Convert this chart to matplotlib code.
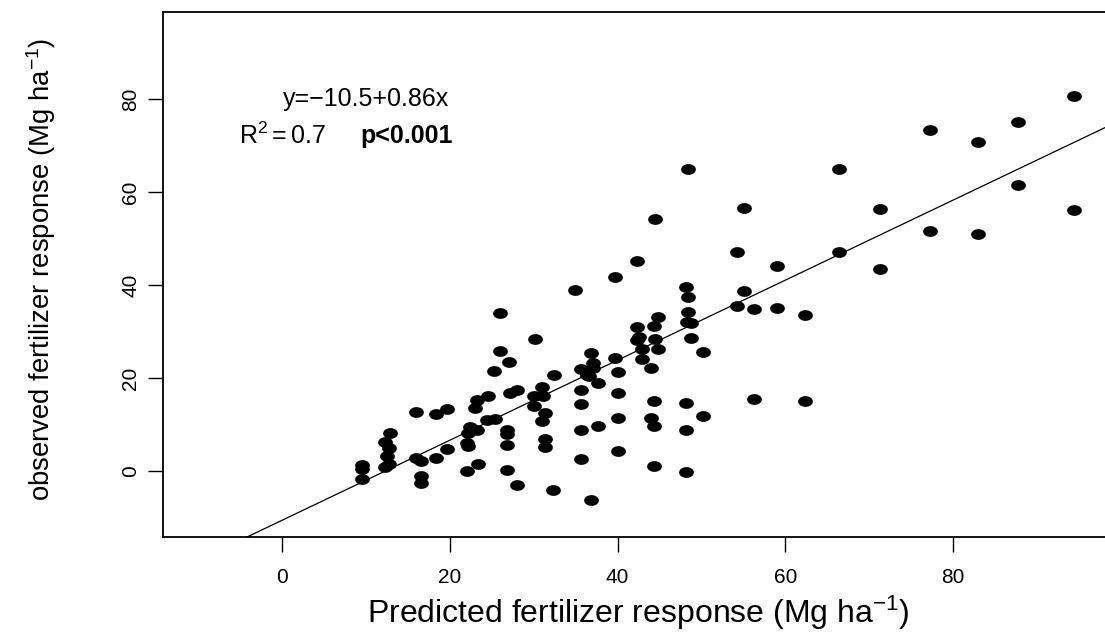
import numpy as np
import matplotlib
matplotlib.use("Agg")
import matplotlib.pyplot as plt
from matplotlib.path import Path

# ---- data ----
predicted = [9.5, 9.5, 9.5,
             12.9, 12.3, 12.7, 12.5, 12.3, 12.7,
             16.0, 16.0, 16.6, 16.6, 16.6,
             18.4, 18.4, 19.6, 19.6,
             22.4, 22.2, 22.0, 22.2, 22.0,
             23.2, 23.2, 23.0, 23.4,
             24.5, 24.4, 25.4, 25.2, 26.0, 26.0,
             26.8, 26.8, 26.8, 26.8, 27.1, 27.2,
             28.0, 28.0, 30.2, 31.0, 30.0, 30.0, 31.1,
             31.3, 31.3, 31.3, 31.0, 32.3, 32.4,
             34.9, 35.6, 35.6, 35.6, 35.6, 35.6,
             36.8, 36.8, 37.0, 37.0, 36.3, 36.6, 37.7, 37.7,
             39.7, 39.7, 40.0, 40.0, 40.0, 40.0,
             42.3, 42.3, 42.3, 42.6, 42.9, 42.9,
             44.3, 44.3, 44.3, 44.3, 44.5, 44.5, 44.0, 44.0, 44.8, 44.8,
             48.2, 48.2, 48.2, 48.2, 48.4, 48.4, 48.4, 48.3, 48.7, 48.7,
             50.2, 50.2, 54.2, 54.2, 55.1, 55.1, 56.2, 56.2,
             59.0, 59.0, 62.3, 62.3, 66.4, 66.4, 71.3, 71.3,
             77.2, 77.2, 83.0, 83.0, 87.7, 87.7, 94.4, 94.4]
observed = [1.3, 0.5, -1.7,
            8.2, 6.4, 5.0, 3.2, 1.0, 1.6,
            12.8, 2.8, 2.3, -1.1, -2.5,
            12.3, 2.8, 13.4, 4.8,
            9.6, 8.2, 6.2, 5.5, 0.0,
            15.4, 8.9, 13.7, 1.5,
            16.1, 11.1, 11.2, 21.6, 34.0, 25.9,
            8.9, 8.1, 5.7, 0.3, 23.4, 16.8,
            17.5, -3.0, 28.5, 18.2, 16.1, 14.1, 16.2,
            12.5, 7.0, 5.3, 10.8, -4.0, 20.6,
            39.0, 21.9, 17.5, 14.5, 8.9, 2.7,
            25.5, -6.1, 23.2, 22.2, 20.7, 20.4, 18.9, 9.8,
            41.8, 24.3, 21.4, 16.8, 11.4, 4.3,
            45.3, 31.0, 28.3, 28.8, 26.3, 24.1,
            31.2, 15.1, 9.8, 1.2, 28.4, 54.2, 22.3, 11.4, 33.2, 26.2,
            39.7, 14.6, 8.8, -0.2, 37.5, 34.2, 64.9, 32.2, 31.8, 28.7,
            25.6, 12.0, 47.2, 35.6, 38.8, 56.5, 34.9, 15.6,
            44.2, 35.0, 33.5, 15.1, 64.9, 47.1, 56.3, 43.5,
            73.3, 51.6, 70.8, 50.9, 75.1, 61.5, 80.6, 56.2]

intercept = -10.5
slope = 0.86
x_ticks = [0, 20, 40, 60, 80]
y_ticks = [0, 20, 40, 60, 80]
eq_text = "y=\u221210.5+0.86x"
r2_text = r"$\mathregular{R^2 = 0.7}$"
p_text = "p<0.001"
x_label = r"Predicted fertilizer response (Mg ha$^{\mathregular{-1}}$)"
y_label = r"observed fertilizer response (Mg ha$^{\mathregular{-1}}$)"

plt.rcParams['font.family'] = ['Liberation Sans', 'DejaVu Sans']
plt.rcParams['mathtext.fontset'] = 'custom'
plt.rcParams['mathtext.rm'] = 'Liberation Sans'
plt.rcParams['mathtext.it'] = 'Liberation Sans:italic'
plt.rcParams['mathtext.bf'] = 'Liberation Sans:bold'

W, H = 1105, 633
fig = plt.figure(figsize=(W / 100, H / 100), dpi=100)
left, right, top, bottom = 163, 1114.3, 12, 537
axw, axh = right - left, bottom - top
ax = fig.add_axes([left / W, 1 - bottom / H, axw / W, axh / H])

# elliptical marker (points look wider than tall)
t = np.linspace(0, 2 * np.pi, 60)
ell = Path(np.column_stack([np.cos(t) * 1.0, np.sin(t) * 0.73]), closed=True)

ax.plot(predicted, observed, linestyle='none', marker=ell, markersize=10.6,
        color='black', markeredgewidth=0)

xl = (-14.2, 99.2)
yl = (-14.1, 98.7)
xx = np.array(xl)
ax.plot(xx, intercept + slope * xx, color='black', lw=0.9)
ax.set_xlim(xl)
ax.set_ylim(yl)

ax.set_xticks(x_ticks)
ax.set_yticks(y_ticks)
ax.tick_params(axis='both', direction='out', length=11, width=1.0, labelsize=15)
ax.tick_params(axis='x', pad=22)
ax.tick_params(axis='y', pad=5.5)
for lab in ax.get_xticklabels():
    lab.set_va('baseline')
for lab in ax.get_yticklabels():
    lab.set_rotation(90)
    lab.set_va('center')
for s in ax.spines.values():
    s.set_linewidth(1.3)

ax.set_xlabel(x_label, fontsize=23)
ax.xaxis.label.set_va('baseline')
ax.xaxis.set_label_coords(0.4998, (bottom - 623) / axh)
ax.set_ylabel(y_label, fontsize=19.8)
ax.yaxis.set_label_coords((58 - left) / axw, (bottom - 269) / axh)

ax.text(10, 80, eq_text, ha='center', va='center', fontsize=18)
ax.text(0, 72, r2_text, ha='center', va='center', fontsize=18)
ax.text(14.8, 72, p_text, ha='center', va='center', fontsize=18, fontweight='bold')

fig.savefig("out.png", dpi=100)
